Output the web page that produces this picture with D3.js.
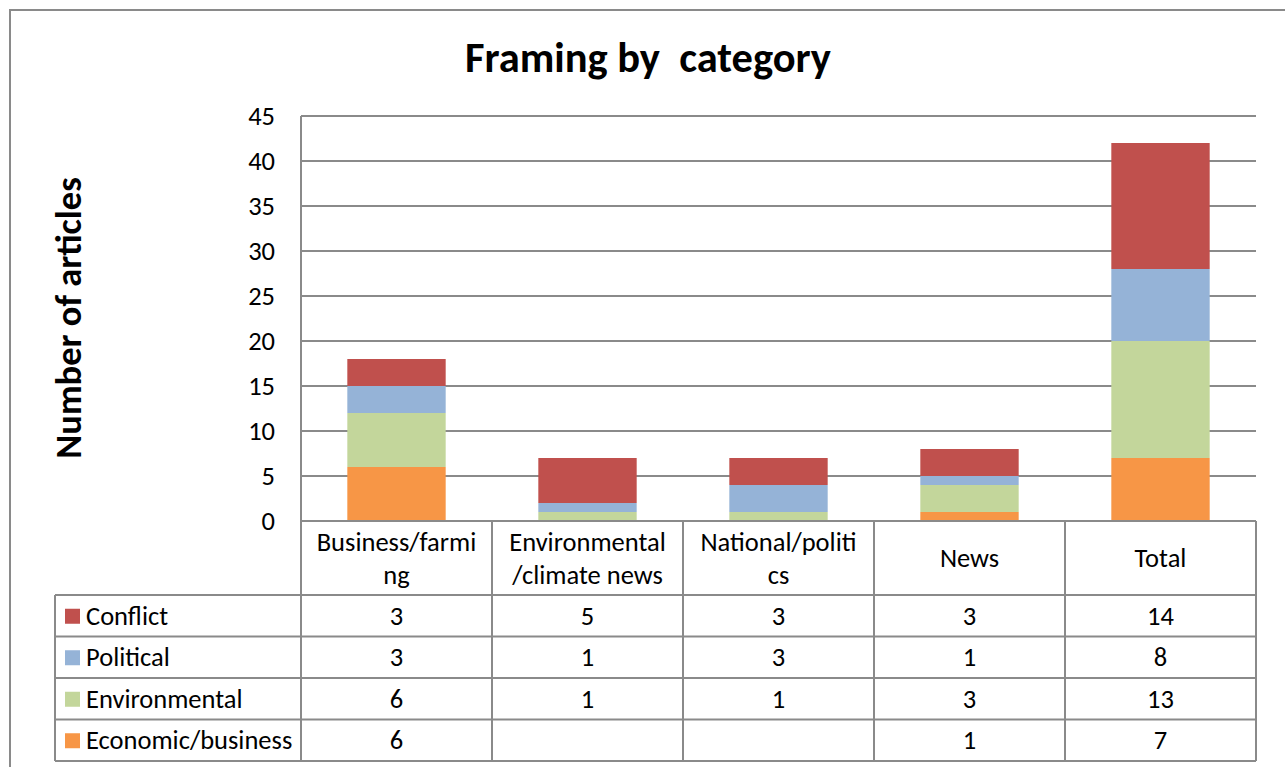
<!DOCTYPE html>
<html><head><meta charset="utf-8">
<script src="https://cdn.jsdelivr.net/npm/d3@7"></script>
<style>body{margin:0;background:#fff;} svg{display:block;} text{font-family:Carlito,Lato,"Open Sans",sans-serif;fill:#000;}</style>
</head><body><svg id="c" width="1285" height="767"></svg>
<script>
const categories = ["Business/farming","Environmental/climate news","National/politics","News","Total"];
const categoryLines = [["Business/farmi","ng"],["Environmental","/climate news"],["National/politi","cs"],["News"],["Total"]];
const seriesNames = ["Conflict","Political","Environmental","Economic/business"];
const conflict = [3,5,3,3,14];
const political = [3,1,3,1,8];
const environmental = [6,1,1,3,13];
const economic = [6,null,null,1,7];
const yTicks = [0,5,10,15,20,25,30,35,40,45];
const colors = {"Conflict":"#C0504D","Political":"#95B3D7","Environmental":"#C3D69B","Economic/business":"#F79646"};

const seriesVals = {"Conflict":conflict,"Political":political,"Environmental":environmental,"Economic/business":economic};
const svg = d3.select("#c");
const grey = "#8a8a8a";
const fs = 26.5;
// outer border
svg.append("rect").attr("x",10).attr("y",10).attr("width",1300).attr("height",800).attr("fill","none").attr("stroke",grey).attr("stroke-width",2);

const L=301,R=1256,T=116,B=521;
const x = d3.scaleBand().domain(categories).range([L,R]).paddingInner(0).paddingOuter(0);
const y = d3.scaleLinear().domain([0,45]).range([B,T]);

// title
svg.append("text").attr("x",648).attr("y",72).attr("text-anchor","middle").attr("font-size",42.5).attr("font-weight","bold").style("white-space","pre").text("Framing by  category");
svg.append("text").attr("transform","translate(81,318) rotate(-90)").attr("text-anchor","middle").attr("font-size",36.5).attr("font-weight","bold").text("Number of articles");

// gridlines
svg.append("g").selectAll("line").data(yTicks.filter(d=>d>0)).join("line")
  .attr("x1",L).attr("x2",R).attr("y1",d=>y(d)).attr("y2",d=>y(d)).attr("stroke",grey).attr("stroke-width",2);
// y axis labels
const ya = svg.append("g").attr("transform",`translate(${L},0)`).call(d3.axisLeft(y).tickValues(yTicks).tickSize(0).tickPadding(26));
ya.select(".domain").remove();
ya.selectAll("text").attr("font-size",fs).attr("font-family","Carlito,Lato,'Open Sans',sans-serif").attr("fill","#000");

// stacked bars
const stackOrder = ["Economic/business","Environmental","Political","Conflict"];
const rows = categories.map((c,i)=>{const o={cat:c}; stackOrder.forEach(s=>o[s]=seriesVals[s][i]||0); return o;});
const stack = d3.stack().keys(stackOrder)(rows);
const bw = x.bandwidth()*0.515;
svg.append("g").selectAll("g").data(stack).join("g").attr("fill",d=>colors[d.key])
  .selectAll("rect").data(d=>d.filter(p=>p[1]>p[0])).join("rect")
  .attr("x",d=>x(d.data.cat)+(x.bandwidth()-bw)/2).attr("width",bw)
  .attr("y",d=>y(d[1])).attr("height",d=>y(d[0])-y(d[1]));

// table
const hdrB = 595;
const rowH = 41.5;
const tL = 55;
const tg = svg.append("g").attr("stroke",grey).attr("stroke-width",2);
tg.append("line").attr("x1",L).attr("x2",R).attr("y1",B).attr("y2",B);
categories.forEach(c=>tg.append("line").attr("x1",x(c)).attr("x2",x(c)).attr("y1",B).attr("y2",hdrB+rowH*4));
tg.append("line").attr("x1",R).attr("x2",R).attr("y1",B).attr("y2",hdrB+rowH*4);
tg.append("line").attr("x1",L).attr("x2",L).attr("y1",T).attr("y2",B);
for(let k=0;k<=4;k++) tg.append("line").attr("x1",tL).attr("x2",R).attr("y1",hdrB+rowH*k).attr("y2",hdrB+rowH*k);
tg.append("line").attr("x1",tL).attr("x2",tL).attr("y1",hdrB).attr("y2",hdrB+rowH*4);

// header labels
categories.forEach((c,i)=>{
  const lines = categoryLines[i];
  const cx = x(c)+x.bandwidth()/2;
  const cy = (B+hdrB)/2;
  lines.forEach((ln,j)=>{
    svg.append("text").attr("x",cx).attr("y",cy+(j-(lines.length-1)/2)*33+9).attr("text-anchor","middle").attr("font-size",fs).text(ln);
  });
});
// rows
seriesNames.forEach((s,k)=>{
  const cy = hdrB+rowH*k+rowH/2;
  svg.append("rect").attr("x",65).attr("y",cy-7).attr("width",15).attr("height",15).attr("fill",colors[s]);
  svg.append("text").attr("x",86).attr("y",cy+9).attr("font-size",fs).text(s);
  seriesVals[s].forEach((v,i)=>{
    if(v==null) return;
    svg.append("text").attr("x",x(categories[i])+x.bandwidth()/2).attr("y",cy+9).attr("text-anchor","middle").attr("font-size",fs).text(v);
  });
});
</script></body></html>
